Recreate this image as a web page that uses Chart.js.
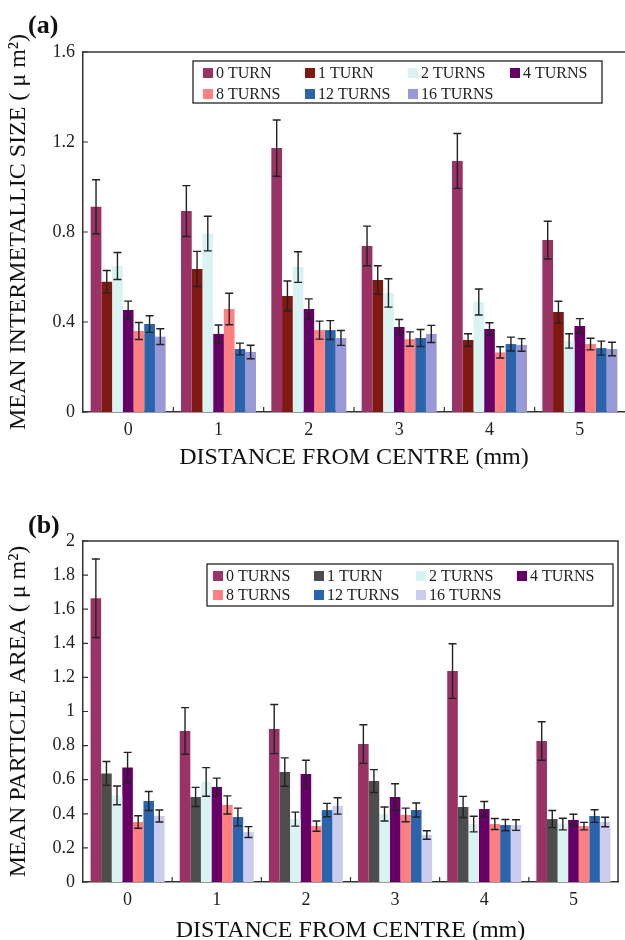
<!DOCTYPE html>
<html>
<head>
<meta charset="utf-8">
<script src="https://cdn.jsdelivr.net/npm/chart.js@4.4.1/dist/chart.umd.min.js"></script>
<style>
  body { margin: 0; background: #fff; }
  canvas { display: block; }
</style>
</head>
<body>
<canvas id="size_chart" width="625" height="480"></canvas>
<canvas id="area_chart" width="625" height="460"></canvas>
<script>
// categories (distance from centre, mm)
const categories = ["0", "1", "2", "3", "4", "5"];

// (a) mean intermetallic size, um^2
const sizeLabels = ["0 TURN", "1 TURN", "2 TURNS", "4 TURNS", "8 TURNS", "12 TURNS", "16 TURNS"];
const sizeT0 = [0.912, 0.893, 1.173, 0.738, 1.116, 0.764];
const sizeT0Err = [0.12, 0.113, 0.125, 0.088, 0.122, 0.084];
const sizeT1 = [0.579, 0.636, 0.516, 0.587, 0.32, 0.444];
const sizeT1Err = [0.05, 0.078, 0.066, 0.063, 0.028, 0.048];
const sizeT2 = [0.649, 0.793, 0.644, 0.529, 0.489, 0.316];
const sizeT2Err = [0.06, 0.077, 0.068, 0.063, 0.058, 0.032];
const sizeT4 = [0.453, 0.347, 0.458, 0.378, 0.369, 0.382];
const sizeT4Err = [0.04, 0.04, 0.045, 0.033, 0.028, 0.033];
const sizeT8 = [0.36, 0.458, 0.364, 0.324, 0.265, 0.302];
const sizeT8Err = [0.038, 0.07, 0.04, 0.032, 0.025, 0.026];
const sizeT12 = [0.391, 0.28, 0.364, 0.329, 0.302, 0.284];
const sizeT12Err = [0.037, 0.026, 0.042, 0.038, 0.031, 0.031];
const sizeT16 = [0.335, 0.267, 0.329, 0.347, 0.298, 0.28];
const sizeT16Err = [0.035, 0.03, 0.033, 0.038, 0.028, 0.03];

// (b) mean particle area, um^2
const areaLabels = ["0 TURNS", "1 TURN", "2 TURNS", "4 TURNS", "8 TURNS", "12 TURNS", "16 TURNS"];
const areaT0 = [1.664, 0.886, 0.897, 0.809, 1.237, 0.827];
const areaT0Err = [0.23, 0.137, 0.144, 0.113, 0.16, 0.113];
const areaT1 = [0.637, 0.499, 0.645, 0.592, 0.44, 0.369];
const areaT1Err = [0.07, 0.056, 0.083, 0.067, 0.062, 0.05];
const areaT2 = [0.508, 0.587, 0.369, 0.399, 0.34, 0.34];
const areaT2Err = [0.055, 0.084, 0.041, 0.041, 0.046, 0.034];
const areaT4 = [0.672, 0.557, 0.633, 0.499, 0.428, 0.364];
const areaT4Err = [0.088, 0.052, 0.081, 0.077, 0.044, 0.033];
const areaT8 = [0.352, 0.452, 0.328, 0.393, 0.34, 0.328];
const areaT8Err = [0.037, 0.053, 0.03, 0.04, 0.032, 0.022];
const areaT12 = [0.475, 0.381, 0.422, 0.422, 0.334, 0.387];
const areaT12Err = [0.056, 0.052, 0.039, 0.041, 0.033, 0.037];
const areaT16 = [0.387, 0.293, 0.446, 0.276, 0.334, 0.352];
const areaT16Err = [0.035, 0.032, 0.048, 0.025, 0.031, 0.028];

const sizeColors = ["#993366", "#801911", "#d8f3f1", "#660066", "#ff8080", "#2a64ad", "#9999d8"];
const areaColors = ["#993366", "#4d4d4d", "#d8f3f1", "#660066", "#ff8080", "#2a64ad", "#ccccee"];

const SERIF = "'Liberation Serif', 'DejaVu Serif', serif";
const INK = "#222";

function makeDatasets(labels, colors, values, errors) {
  return labels.map((label, i) => ({
    label: label,
    backgroundColor: colors[i],
    data: values[i],
    errors: errors[i],
    barPercentage: 1,
    categoryPercentage: 0.83,
  }));
}

// error bars, inward ticks, frame, boxed legend, panel letter
const decorPlugin = {
  id: "decor",
  afterDatasetsDraw(chart) {
    const ctx = chart.ctx;
    const y = chart.scales.y;
    ctx.save();
    ctx.strokeStyle = INK;
    ctx.lineWidth = 1.4;
    chart.data.datasets.forEach((ds, di) => {
      const meta = chart.getDatasetMeta(di);
      meta.data.forEach((bar, i) => {
        const v = ds.data[i], e = ds.errors[i];
        const yt = y.getPixelForValue(v + e);
        const yb = y.getPixelForValue(v - e);
        ctx.beginPath();
        ctx.moveTo(bar.x, yt); ctx.lineTo(bar.x, yb);
        ctx.moveTo(bar.x - 4, yt); ctx.lineTo(bar.x + 4, yt);
        ctx.moveTo(bar.x - 4, yb); ctx.lineTo(bar.x + 4, yb);
        ctx.stroke();
      });
    });
    ctx.restore();
  },
  afterDraw(chart, args, opts) {
    const ctx = chart.ctx;
    const area = chart.chartArea;
    const x = chart.scales.x, y = chart.scales.y;
    ctx.save();
    ctx.strokeStyle = "#333";
    ctx.lineWidth = 1.5;
    // frame
    ctx.beginPath();
    ctx.moveTo(area.left, area.top);
    ctx.lineTo(area.right, area.top);
    if (opts.rightBorder) ctx.lineTo(area.right, area.bottom);
    ctx.stroke();
    // inward ticks
    ctx.lineWidth = 1.2;
    ctx.beginPath();
    for (let i = 1; i < categories.length; i++) {
      const px = (x.getPixelForValue(i - 1) + x.getPixelForValue(i)) / 2;
      ctx.moveTo(px, area.bottom); ctx.lineTo(px, area.bottom - 5);
    }
    y.ticks.forEach((t) => {
      const py = y.getPixelForValue(t.value);
      ctx.moveTo(area.left, py); ctx.lineTo(area.left + 5, py);
    });
    ctx.stroke();

    // legend box
    const L = opts.legend;
    ctx.fillStyle = "#fff";
    ctx.fillRect(L.left, L.top, L.right - L.left, L.bottom - L.top);
    ctx.strokeStyle = "#222";
    ctx.lineWidth = 1.3;
    ctx.strokeRect(L.left, L.top, L.right - L.left, L.bottom - L.top);
    ctx.font = "16px " + SERIF;
    ctx.textBaseline = "middle";
    ctx.textAlign = "left";
    chart.data.datasets.forEach((ds, i) => {
      const col = i % 4, row = Math.floor(i / 4);
      const sx = L.cols[col], sy = L.rows[row];
      ctx.fillStyle = ds.backgroundColor;
      ctx.fillRect(sx, sy - 5, 10, 10);
      ctx.fillStyle = INK;
      ctx.fillText(ds.label, sx + 13, sy + 1);
    });

    // panel letter
    ctx.font = "bold 26px " + SERIF;
    ctx.textBaseline = "alphabetic";
    ctx.fillStyle = "#111";
    ctx.fillText(opts.letter, 28, opts.letterY);
    ctx.restore();
  },
};

function makeChart(id, labels, colors, values, errors, cfg) {
  new Chart(document.getElementById(id), {
    type: "bar",
    data: { labels: categories, datasets: makeDatasets(labels, colors, values, errors) },
    plugins: [decorPlugin],
    options: {
      responsive: false,
      animation: false,
      layout: { padding: { top: cfg.top, right: cfg.right, left: 0, bottom: 0 } },
      plugins: {
        legend: { display: false },
        tooltip: { enabled: false },
        decor: cfg.decor,
      },
      scales: {
        x: {
          grid: { display: false, drawTicks: false },
          border: { display: true, color: "#333", width: 1.5 },
          ticks: { color: INK, font: { family: SERIF, size: 18 }, padding: 7 },
          title: {
            display: true,
            text: "DISTANCE FROM CENTRE (mm)",
            color: "#111",
            font: { family: SERIF, size: 24, lineHeight: cfg.xTitleLH },
            padding: { top: 0, bottom: cfg.xTitlePad },
          },
          afterFit(scale) { scale.height = cfg.xHeight; },
        },
        y: {
          min: 0,
          max: cfg.max,
          grid: { display: false, drawTicks: false },
          border: { display: true, color: "#333", width: 1.5 },
          ticks: {
            stepSize: cfg.step,
            color: INK,
            font: { family: SERIF, size: 18 },
            padding: 8,
            callback: (v) => String(Number(v.toFixed(2))),
          },
          title: {
            display: true,
            text: cfg.yTitle,
            color: "#111",
            font: { family: SERIF, size: 24, lineHeight: 1.2 },
            padding: { top: 4, bottom: 0 },
          },
          afterFit(scale) { scale.width = 83; },
        },
      },
    },
  });
}

makeChart("size_chart", sizeLabels, sizeColors,
  [sizeT0, sizeT1, sizeT2, sizeT4, sizeT8, sizeT12, sizeT16],
  [sizeT0Err, sizeT1Err, sizeT2Err, sizeT4Err, sizeT8Err, sizeT12Err, sizeT16Err],
  {
    top: 52, right: 0, xHeight: 68, max: 1.6, step: 0.4,
    xTitleLH: 1.2, xTitlePad: 8,
    yTitle: "MEAN INTERMETALLIC SIZE ( \u03bc m\u00b2)",
    decor: {
      rightBorder: false, letter: "(a)", letterY: 33,
      legend: { left: 193, right: 602, top: 61, bottom: 103, cols: [203, 305, 408, 510], rows: [73, 94] },
    },
  });

makeChart("area_chart", areaLabels, areaColors,
  [areaT0, areaT1, areaT2, areaT4, areaT8, areaT12, areaT16],
  [areaT0Err, areaT1Err, areaT2Err, areaT4Err, areaT8Err, areaT12Err, areaT16Err],
  {
    top: 61, right: 7, xHeight: 58, max: 2, step: 0.2,
    xTitleLH: 0.75, xTitlePad: 0,
    yTitle: "MEAN PARTICLE AREA ( \u03bc m\u00b2)",
    decor: {
      rightBorder: true, letter: "(b)", letterY: 53,
      legend: { left: 207, right: 613, top: 84, bottom: 126, cols: [213, 314, 416, 517], rows: [96, 115] },
    },
  });
</script>
</body>
</html>
